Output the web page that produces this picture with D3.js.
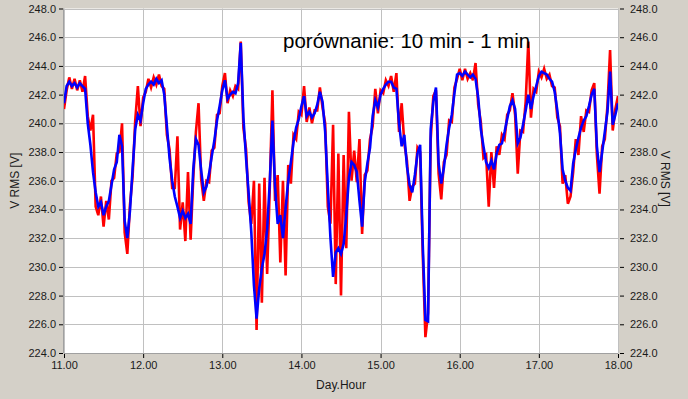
<!DOCTYPE html>
<html>
<head>
<meta charset="utf-8">
<script src="https://cdn.jsdelivr.net/npm/d3@7"></script>
<style>
  html, body { margin: 0; padding: 0; background: #d4d0c8; }
  svg { display: block; font-family: Arial, "Liberation Sans", sans-serif; }
</style>
</head>
<body>
<svg id="chart" width="688" height="399"></svg>
<script>
// samples every 2 minutes from 11.00 to 18.00
const startHour = 11;
const stepHour = 1 / 30;

const xTicks = [11, 12, 13, 14, 15, 16, 17, 18];
const yTicks = [224, 226, 228, 230, 232, 234, 236, 238, 240, 242, 244, 246, 248];

// 10 min series (blue)
const blueValues = [
  241.4, 242.6, 242.9, 242.6, 242.8, 242.5, 242.8, 242.6, 242.4, 240.0,
  238.5, 236.6, 235.2, 234.2, 234.5, 233.6, 234.2, 234.6, 235.7, 236.8,
  237.3, 239.2, 238.4, 233.2, 232.0, 233.9, 236.8, 239.6, 240.6, 240.2,
  241.4, 242.4, 242.7, 242.9, 242.7, 243.1, 242.8, 243.0, 242.0, 239.8,
  237.6, 236.0, 234.9, 234.2, 233.4, 233.9, 233.4, 233.7, 233.0, 236.8,
  238.9, 238.5, 236.7, 235.2, 235.6, 236.5, 237.7, 238.8, 240.2, 241.2,
  242.3, 243.0, 241.7, 242.0, 242.2, 242.1, 242.8, 245.6, 240.4, 237.6,
  235.1, 232.4, 228.7, 226.4, 228.5, 229.9, 230.9, 232.6, 235.9, 240.2,
  235.6, 233.0, 233.6, 232.0, 234.1, 236.0, 237.3, 238.7, 239.7, 240.3,
  241.2, 241.9, 240.5, 240.8, 240.4, 240.7, 241.3, 242.2, 241.5, 239.4,
  235.6, 232.0, 229.3, 231.0, 231.3, 230.9, 231.6, 233.6, 236.2, 237.3,
  237.1, 236.6, 234.6, 232.8, 235.9, 237.2, 238.3, 240.5, 241.6, 241.1,
  242.0, 242.4, 242.7, 242.9, 242.9, 242.5, 242.4, 240.0, 238.4, 239.2,
  237.0, 235.7, 235.2, 236.4, 237.9, 238.5, 231.5, 226.3, 226.2, 239.6,
  241.5, 242.5, 237.2, 235.8, 236.9, 238.5, 239.7, 240.6, 242.1, 243.4,
  243.5, 243.3, 243.6, 243.4, 243.2, 243.4, 243.1, 241.8, 239.6, 238.4,
  237.3, 236.9, 237.4, 236.8, 237.9, 238.5, 238.6, 239.4, 240.3, 241.2,
  241.6, 241.0, 238.6, 239.0, 239.9, 240.9, 242.0, 241.0, 241.9, 242.6,
  243.3, 243.6, 243.5, 243.4, 243.1, 242.9, 242.2, 240.9, 239.3, 236.8,
  236.0, 235.5, 235.3, 237.2, 238.2, 239.0, 239.7, 240.2, 240.5, 241.2,
  242.0, 242.4, 238.4, 236.6, 238.0, 239.4, 240.8, 243.6, 239.9, 240.6,
  241.4
];

// 1 min series (red)
const redValues = [
  241.0, 242.3, 243.2, 242.4, 243.1, 242.3, 243.0, 242.2, 243.3, 240.5,
  239.5, 240.6, 234.2, 233.6, 234.9, 232.8, 234.6, 233.3, 236.0, 236.2,
  237.9, 238.0, 240.0, 232.4, 230.9, 234.3, 236.3, 240.2, 242.6, 239.8,
  241.8, 242.2, 243.1, 242.5, 243.2, 242.7, 243.4, 242.6, 242.4, 239.2,
  238.2, 235.5, 235.5, 239.1, 232.6, 234.5, 231.8, 236.6, 231.9, 236.2,
  239.4, 241.4, 236.1, 234.6, 236.0, 235.9, 238.1, 238.3, 240.6, 240.7,
  242.6, 243.5, 241.4, 242.3, 241.9, 242.6, 242.4, 245.7, 239.7, 238.2,
  234.5, 233.0, 236.0, 225.6, 235.8, 227.5, 236.2, 229.5, 235.5, 242.3,
  234.6, 236.4, 230.3, 236.0, 229.4, 237.1, 235.8, 239.2, 238.9, 240.8,
  240.6, 242.6, 240.1, 241.1, 240.0, 240.9, 240.9, 242.5, 241.1, 240.0,
  234.2, 233.0, 239.9, 228.8, 237.9, 228.0, 237.8, 231.3, 240.8, 236.0,
  238.1, 235.9, 238.9, 232.3, 236.4, 236.7, 238.9, 239.8, 242.4, 240.7,
  242.3, 242.1, 243.0, 242.6, 243.3, 242.2, 243.5, 239.4, 241.4, 238.6,
  237.4, 234.6, 235.6, 235.8, 238.3, 238.0, 230.8, 225.1, 226.8, 238.9,
  241.9, 242.3, 236.5, 234.7, 237.3, 237.8, 240.2, 240.1, 242.5, 243.1,
  243.8, 243.0, 243.8, 243.1, 243.5, 243.0, 244.2, 241.3, 240.1, 237.6,
  237.8, 234.2, 238.0, 235.5, 238.4, 237.8, 239.2, 238.9, 240.6, 240.9,
  242.1, 240.6, 236.5, 239.5, 239.4, 241.5, 245.7, 240.4, 242.4, 242.2,
  243.6, 243.2, 243.8, 243.1, 243.4, 242.6, 242.5, 240.4, 239.8, 235.8,
  236.4, 234.4, 234.9, 236.6, 238.9, 237.8, 240.5, 239.4, 240.9, 240.8,
  242.3, 242.8, 237.8, 235.1, 238.4, 238.9, 241.2, 245.1, 239.5, 241.0,
  241.9
];

const margin = { top: 8.5, right: 70, bottom: 46, left: 64 };
const width = 688, height = 399;
const plotW = 618 - margin.left;
const plotH = height - margin.top - margin.bottom;

const svg = d3.select('#chart');

const x = d3.scaleLinear().domain([11, 18]).range([margin.left, margin.left + plotW]);
const y = d3.scaleLinear().domain([224, 248]).range([margin.top + plotH, margin.top]);

// plot background
svg.append('rect')
  .attr('x', margin.left)
  .attr('y', margin.top)
  .attr('width', plotW)
  .attr('height', plotH)
  .attr('fill', '#ffffff');

// grid
const grid = svg.append('g').attr('stroke', '#c0c0c0').attr('stroke-width', 1);
grid.selectAll('.gy').data(yTicks).join('line')
  .attr('x1', margin.left).attr('x2', margin.left + plotW)
  .attr('y1', d => Math.round(y(d)) + 0.5).attr('y2', d => Math.round(y(d)) + 0.5);
grid.selectAll('.gx').data(xTicks).join('line')
  .attr('y1', margin.top).attr('y2', margin.top + plotH)
  .attr('x1', d => Math.round(x(d)) + 0.5).attr('x2', d => Math.round(x(d)) + 0.5);

svg.append('clipPath').attr('id', 'clip')
  .append('rect')
  .attr('x', margin.left).attr('y', margin.top)
  .attr('width', plotW).attr('height', plotH);

const line = d3.line()
  .x((d, i) => x(startHour + i * stepHour))
  .y(d => y(d));

const lines = svg.append('g').attr('clip-path', 'url(#clip)');
lines.append('path')
  .datum(redValues)
  .attr('fill', 'none')
  .attr('stroke', '#ff0000')
  .attr('stroke-width', 2.6)
  .attr('d', line);
lines.append('path')
  .datum(blueValues)
  .attr('fill', 'none')
  .attr('stroke', '#0000ff')
  .attr('stroke-width', 2.6)
  .attr('d', line);

// axes
const fmtY = d3.format('.1f');
const fmtX = d3.format('.2f');

const axisLeft = svg.append('g')
  .attr('transform', `translate(${margin.left - 1},0)`)
  .call(d3.axisLeft(y).tickValues(yTicks).tickFormat(fmtY).tickSize(4).tickPadding(3));
const axisRight = svg.append('g')
  .attr('transform', `translate(${margin.left + plotW + 2},0)`)
  .call(d3.axisRight(y).tickValues(yTicks).tickFormat(fmtY).tickSize(4).tickPadding(6));
const axisBottom = svg.append('g')
  .attr('transform', `translate(0,${margin.top + plotH + 1})`)
  .call(d3.axisBottom(x).tickValues(xTicks).tickFormat(fmtX).tickSize(4).tickPadding(3));

[axisLeft, axisRight, axisBottom].forEach(a => {
  a.select('.domain').remove();
  a.selectAll('text').attr('fill', '#1a1a1a').style('font-size', '11px').style('font-family', 'Arial, "Liberation Sans", sans-serif');
  a.selectAll('line').attr('stroke', '#000');
});

// plot frame (left / bottom edges)
svg.append('line')
  .attr('x1', margin.left - 0.5).attr('x2', margin.left - 0.5)
  .attr('y1', margin.top).attr('y2', margin.top + plotH)
  .attr('stroke', '#a0a0a0');
svg.append('line')
  .attr('x1', margin.left).attr('x2', margin.left + plotW)
  .attr('y1', margin.top + plotH + 0.5).attr('y2', margin.top + plotH + 0.5)
  .attr('stroke', '#a0a0a0');

// labels
svg.append('text')
  .attr('transform', `translate(19,${margin.top + plotH / 2}) rotate(-90)`)
  .attr('text-anchor', 'middle')
  .style('font-size', '12px')
  .attr('fill', '#1a1a1a')
  .text('V RMS [V]');
svg.append('text')
  .attr('transform', `translate(661,${margin.top + plotH / 2 - 2}) rotate(90)`)
  .attr('text-anchor', 'middle')
  .style('font-size', '12px')
  .attr('fill', '#1a1a1a')
  .text('V RMS [V]');
svg.append('text')
  .attr('x', (margin.left + margin.left + plotW) / 2)
  .attr('y', 389)
  .attr('text-anchor', 'middle')
  .style('font-size', '12px')
  .attr('fill', '#1a1a1a')
  .text('Day.Hour');

svg.append('text')
  .attr('x', 283)
  .attr('y', 48)
  .style('font-size', '20.5px')
  .attr('fill', '#000')
  .text('porównanie: 10 min - 1 min');
</script>
</body>
</html>
